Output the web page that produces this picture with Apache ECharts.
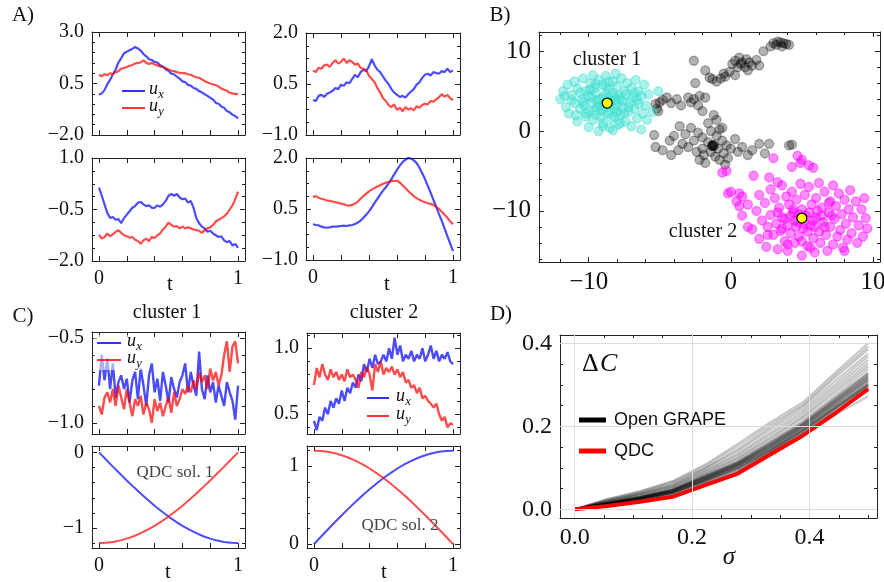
<!DOCTYPE html>
<html>
<head>
<meta charset="utf-8">
<script src="https://cdn.jsdelivr.net/npm/echarts@6/dist/echarts.min.js"></script>
<style>html,body{margin:0;background:#fff}#chart{width:884px;height:582px}</style>
</head>
<body>
<div id="chart"></div>
<script>
// ---- time grids ----
const T51 = [0,0.02,0.04,0.06,0.08,0.1,0.12,0.14,0.16,0.18,0.2,0.22,0.24,0.26,0.28,0.3,0.32,0.34,0.36,0.38,0.4,0.42,0.44,0.46,0.48,0.5,0.52,0.54,0.56,0.58,0.6,0.62,0.64,0.66,0.68,0.7,0.72,0.74,0.76,0.78,0.8,0.82,0.84,0.86,0.88,0.9,0.92,0.94,0.96,0.98,1]
const T21 = [0,0.05,0.1,0.15,0.2,0.25,0.3,0.35,0.4,0.45,0.5,0.55,0.6,0.65,0.7,0.75,0.8,0.85,0.9,0.95,1]

// ---- panel A: four sample pulses ----
const a1Ux = [-0.05,0.02,0.18,0.47,0.68,0.95,1.18,1.52,1.73,1.97,2.04,2.12,2.18,2.27,2.2,2.1,1.93,1.82,1.68,1.64,1.55,1.52,1.38,1.32,1.18,1.12,0.98,0.95,0.83,0.74,0.6,0.57,0.43,0.4,0.28,0.24,0.13,0.07,-0.02,-0.1,-0.2,-0.28,-0.44,-0.48,-0.62,-0.68,-0.84,-0.9,-1.02,-1.08,-1.2]
const a1Uy = [0.92,0.85,0.95,0.9,1.0,0.95,1.05,1.1,1.22,1.25,1.3,1.36,1.4,1.47,1.5,1.52,1.62,1.5,1.45,1.5,1.42,1.38,1.32,1.3,1.25,1.18,1.12,1.1,1.05,1.02,1.0,1.0,0.95,0.92,0.85,0.8,0.78,0.7,0.62,0.55,0.5,0.45,0.42,0.35,0.25,0.2,0.15,0.05,0.02,-0.02,0.0]
const a2Ux = [0.03,0.0,0.15,0.18,0.12,0.21,0.25,0.3,0.38,0.35,0.48,0.45,0.55,0.52,0.65,0.77,0.7,0.85,0.92,0.88,1.02,1.23,1.05,0.92,0.85,0.72,0.6,0.5,0.35,0.25,0.18,0.12,0.15,0.1,0.2,0.28,0.35,0.48,0.55,0.68,0.77,0.8,0.75,0.85,0.82,0.8,0.88,0.85,0.95,0.85,0.9]
const a2Uy = [0.9,0.85,0.98,0.95,1.05,1.07,1.0,1.12,1.2,1.1,1.15,1.25,1.12,1.2,1.15,1.07,1.1,0.97,0.95,0.9,0.74,0.65,0.55,0.38,0.25,0.08,0.0,-0.12,-0.18,-0.1,-0.26,-0.2,-0.3,-0.18,-0.25,-0.21,-0.28,-0.15,-0.2,-0.12,-0.08,-0.1,0.0,-0.02,0.05,0.11,0.2,0.13,0.18,0.08,0.03]
const a3Ux = [0.14,-0.1,-0.35,-0.6,-0.75,-0.72,-0.8,-0.78,-0.9,-0.75,-0.65,-0.55,-0.45,-0.4,-0.3,-0.28,-0.35,-0.4,-0.38,-0.45,-0.45,-0.38,-0.42,-0.35,-0.25,-0.1,-0.05,-0.1,-0.05,-0.15,-0.2,-0.18,-0.3,-0.25,-0.45,-0.75,-0.9,-1.0,-1.05,-1.15,-1.12,-1.2,-1.25,-1.3,-1.28,-1.4,-1.45,-1.42,-1.55,-1.5,-1.62]
const a3Uy = [-1.23,-1.35,-1.3,-1.2,-1.28,-1.22,-1.15,-1.1,-1.18,-1.25,-1.28,-1.32,-1.3,-1.38,-1.42,-1.5,-1.4,-1.35,-1.42,-1.3,-1.33,-1.25,-1.2,-1.08,-1.0,-0.88,-0.95,-1.0,-0.98,-1.05,-1.0,-1.05,-1.02,-1.05,-1.08,-1.1,-1.12,-1.18,-1.1,-1.05,-1.02,-0.95,-0.85,-0.8,-0.75,-0.7,-0.62,-0.5,-0.38,-0.2,0.02]
const a4Ux = [0.05,0.03,0.02,-0.02,-0.04,-0.05,-0.04,-0.02,-0.02,-0.01,0.0,0.01,0.0,0.02,0.03,0.06,0.1,0.16,0.24,0.33,0.43,0.55,0.68,0.8,0.92,1.04,1.14,1.25,1.38,1.52,1.65,1.78,1.88,1.95,2.0,1.98,1.93,1.85,1.72,1.55,1.38,1.18,0.98,0.77,0.56,0.35,0.15,-0.08,-0.3,-0.52,-0.74]
const a4Uy = [0.85,0.88,0.83,0.8,0.78,0.75,0.74,0.72,0.7,0.68,0.66,0.64,0.61,0.6,0.62,0.66,0.72,0.8,0.88,0.95,1.02,1.07,1.12,1.16,1.2,1.24,1.27,1.3,1.32,1.33,1.33,1.28,1.2,1.12,1.03,0.95,0.88,0.82,0.77,0.73,0.7,0.67,0.65,0.62,0.56,0.5,0.42,0.33,0.24,0.14,0.05]

// ---- panel B: embedding ----
const cluster1Pts = [[-12.0,4.0],[-11.8,5.0],[-11.6,3.0],[-11.5,5.8],[-11.4,2.2],[-11.2,4.5],[-11.0,3.5],[-11.0,6.2],[-10.8,1.2],[-10.8,5.3],[-10.6,2.8],[-10.5,4.0],[-10.4,6.6],[-10.3,3.2],[-10.2,1.8],[-10.2,5.0],[-10.0,0.5],[-10.0,2.5],[-10.0,4.4],[-9.9,6.0],[-9.8,3.6],[-9.7,7.0],[-9.7,1.4],[-9.6,5.4],[-9.5,2.0],[-9.5,4.8],[-9.4,3.0],[-9.3,6.4],[-9.3,0.0],[-9.2,4.0],[-9.1,2.6],[-9.0,5.8],[-9.0,1.0],[-8.9,3.4],[-8.8,4.6],[-8.8,6.9],[-8.7,2.2],[-8.6,5.2],[-8.5,0.4],[-8.5,3.8],[-8.4,1.6],[-8.3,6.2],[-8.2,2.8],[-8.2,4.4],[-8.1,7.2],[-8.0,3.2],[-8.0,5.6],[-7.9,0.8],[-7.8,2.0],[-7.8,4.0],[-7.7,6.6],[-7.6,3.0],[-7.5,5.0],[-7.4,1.2],[-7.4,4.6],[-7.3,6.0],[-7.2,2.4],[-7.1,3.6],[-7.0,5.4],[-7.0,0.6],[-6.9,4.2],[-6.8,2.8],[-6.7,6.4],[-6.6,1.6],[-6.5,3.4],[-6.5,5.0],[-6.3,4.4],[-6.2,2.2],[-6.1,5.8],[-6.0,3.2],[-5.9,1.4],[-5.8,4.6],[-5.5,2.4],[-5.1,5.0],[-6.3,0.2],[-9.4,3.8],[-9.2,3.2],[-9.0,4.2],[-8.9,2.9],[-8.7,3.7],[-8.6,4.1],[-8.5,2.6],[-8.4,3.3],[-8.3,4.8],[-8.1,3.9],[-8.0,2.4],[-7.9,4.4],[-9.6,2.6],[-9.8,4.2],[-10.4,3.6],[-8.8,5.6],[-8.2,1.8],[-7.6,3.8],[-9.1,1.8],[-10.6,4.8],[-11.2,3.9],[-7.2,3.0],[-6.8,4.8],[-9.5,5.9],[-8.6,6.2],[-7.5,2.2],[-10.2,2.2],[-9.0,0.6],[-7.8,1.0],[-11.7,4.4],[-10.9,2.0],[-6.6,3.9],[-9.9,5.2],[-8.3,0.1]]
const cluster2Pts = [[1.5,-12.3],[1.8,-10.0],[2.0,-8.0],[2.0,-13.5],[2.2,-11.2],[2.4,-9.0],[2.5,-14.5],[2.6,-12.0],[2.8,-7.3],[2.8,-10.5],[3.0,-13.0],[3.1,-8.4],[3.2,-11.6],[3.3,-14.8],[3.4,-9.6],[3.5,-12.5],[3.6,-6.8],[3.6,-10.8],[3.8,-13.8],[3.9,-8.2],[4.0,-11.8],[4.0,-15.0],[4.1,-9.2],[4.2,-12.8],[4.3,-7.6],[4.4,-10.2],[4.5,-14.0],[4.6,-8.6],[4.7,-11.4],[4.8,-13.2],[4.9,-6.6],[5.0,-9.8],[5.0,-15.6],[5.1,-12.2],[5.2,-8.0],[5.3,-10.6],[5.4,-14.4],[5.5,-7.0],[5.6,-11.8],[5.7,-9.2],[5.8,-13.4],[5.9,-15.2],[6.0,-8.4],[6.0,-10.8],[6.2,-12.6],[6.2,-6.5],[6.3,-14.0],[6.4,-9.6],[6.5,-11.4],[6.6,-7.6],[6.7,-13.0],[6.8,-15.0],[6.9,-10.2],[7.0,-8.8],[7.0,-12.0],[7.2,-6.8],[7.2,-14.2],[7.3,-11.0],[7.4,-9.4],[7.5,-13.2],[7.6,-7.8],[7.7,-12.4],[7.8,-10.4],[7.9,-14.6],[8.0,-8.6],[8.1,-11.6],[8.2,-13.6],[8.3,-9.8],[8.4,-7.4],[8.5,-12.8],[8.6,-10.8],[8.8,-8.8],[8.9,-14.0],[9.0,-11.8],[9.2,-9.8],[9.3,-13.2],[9.5,-10.9],[9.6,-12.2],[9.4,-8.4],[8.0,-15.0],[4.2,-10.6],[4.5,-11.2],[4.8,-10.4],[5.2,-11.6],[5.5,-10.2],[5.8,-11.2],[4.6,-12.0],[5.4,-12.6],[6.1,-10.0],[3.8,-11.0],[4.4,-9.8],[5.9,-12.0],[6.4,-10.6],[3.6,-12.2],[5.0,-13.8],[6.6,-12.0],[3.3,-10.2],[4.0,-14.2],[5.6,-14.6],[7.1,-10.6],[6.9,-9.0],[2.6,-13.0],[1.2,-9.2],[0.8,-8.2],[0.6,-7.8],[0.0,-7.6],[-0.2,-7.8],[0.4,-8.8],[0.6,-9.4],[0.8,-10.6],[1.6,-5.6],[-0.3,-5.0],[-0.6,-5.2],[3.0,-3.4],[4.3,-4.5],[4.7,-3.1],[5.0,-3.6],[5.5,-4.3],[5.8,-4.6],[4.9,-4.0],[3.3,-6.4],[2.7,-5.8],[1.2,-12.0]]
const otherPts = [[-5.3,3.4],[-5.2,2.8],[-5.0,3.6],[-5.1,2.5],[-4.8,3.9],[-4.5,4.2],[-4.2,3.5],[-3.8,4.0],[-3.5,3.2],[-3.0,4.2],[-2.8,3.6],[-2.6,4.0],[-2.2,4.4],[-2.3,3.2],[-2.0,2.5],[-2.5,6.0],[-1.8,4.2],[-2.6,8.8],[-1.8,7.6],[-1.3,6.5],[-1.0,6.2],[-0.7,6.6],[-0.4,6.8],[-0.1,7.4],[0.1,8.4],[0.3,7.0],[0.3,8.8],[0.5,8.0],[0.6,9.2],[0.8,8.6],[1.0,8.0],[1.1,9.0],[1.3,8.6],[1.5,8.2],[1.2,7.6],[0.7,8.4],[-0.5,7.2],[-1.5,6.7],[1.8,8.9],[2.0,8.2],[2.3,10.0],[2.8,10.6],[3.0,11.0],[3.2,10.8],[3.5,11.1],[3.6,10.6],[3.9,10.9],[4.1,10.8],[3.3,11.2],[3.7,11.0],[-1.2,2.0],[-1.6,1.0],[-1.0,1.4],[-0.6,0.4],[-1.4,0.0],[-5.4,-0.5],[-5.3,-2.0],[-4.8,-2.4],[-4.3,-1.2],[-4.2,-3.0],[-3.7,-2.4],[-3.4,-1.6],[-3.2,-0.4],[-3.0,-2.0],[-2.6,-1.2],[-2.4,-2.6],[-2.2,-3.6],[-2.0,-0.8],[-2.0,-2.2],[-1.8,-4.0],[-1.6,-1.4],[-1.4,-2.6],[-1.3,-1.8],[-1.3,-1.9],[-1.2,-1.7],[-1.3,-1.8],[-1.2,-1.9],[-1.1,-3.2],[-1.0,-0.6],[-0.9,-2.2],[-0.8,-3.6],[-0.6,-1.2],[-0.5,-2.8],[-0.3,-1.8],[-0.2,-3.4],[0.0,-2.2],[0.3,-1.0],[0.5,-2.6],[0.8,-2.0],[1.2,-3.0],[1.5,-2.4],[2.0,-1.6],[2.4,-2.8],[2.7,-1.6],[-2.8,0.4],[-2.3,-0.2],[-0.8,0.2],[4.1,-1.8],[4.3,-1.7],[-4.0,-0.6],[-3.6,0.6],[-1.9,-3.0],[-0.4,-4.2]]
const centers = [[-8.7,3.5],[5.0,-10.9]]

// ---- panel C: cluster averages and QDC solutions ----
const c1Ux = [-0.78,-0.6,-0.75,-0.62,-0.8,-0.65,-0.85,-0.76,-0.72,-0.8,-0.74,-0.88,-0.75,-0.7,-0.86,-0.68,-0.78,-0.9,-0.72,-0.65,-0.82,-0.74,-0.87,-0.7,-0.78,-0.88,-0.73,-0.8,-0.85,-0.76,-0.72,-0.65,-0.82,-0.7,-0.78,-0.84,-0.58,-0.8,-0.86,-0.72,-0.82,-0.76,-0.88,-0.78,-0.84,-0.9,-0.76,-0.82,-0.87,-0.98,-0.78]
const c1Uy = [-0.9,-0.95,-0.85,-0.82,-0.88,-0.8,-0.9,-0.78,-0.85,-0.92,-0.8,-0.88,-0.96,-0.86,-0.9,-0.84,-0.95,-0.88,-0.92,-1.0,-0.86,-0.93,-0.88,-0.96,-0.9,-0.85,-0.94,-0.82,-0.9,-0.86,-0.8,-0.83,-0.78,-0.82,-0.75,-0.8,-0.7,-0.76,-0.72,-0.8,-0.68,-0.75,-0.7,-0.78,-0.72,-0.6,-0.52,-0.7,-0.55,-0.52,-0.65]
const c2Ux = [0.45,0.38,0.48,0.45,0.55,0.5,0.6,0.55,0.62,0.58,0.68,0.6,0.7,0.66,0.74,0.7,0.8,0.75,0.88,0.82,0.92,0.85,0.95,0.88,0.9,0.95,0.9,1.0,0.92,1.08,0.95,1.02,0.9,0.95,0.92,0.98,0.9,0.95,0.92,1.0,0.9,0.95,1.02,0.92,0.98,0.9,0.95,0.92,0.97,0.9,0.88]
const c2Uy = [0.72,0.85,0.78,0.88,0.8,0.76,0.84,0.78,0.82,0.76,0.8,0.75,0.84,0.78,0.8,0.76,0.7,0.82,0.78,0.86,0.8,0.68,0.88,0.82,0.9,0.8,0.85,0.82,0.86,0.8,0.84,0.78,0.82,0.74,0.76,0.7,0.72,0.66,0.7,0.62,0.64,0.6,0.58,0.55,0.58,0.5,0.45,0.48,0.4,0.43,0.42]
const qdc1Ux = [0,-0.094,-0.188,-0.280,-0.371,-0.459,-0.545,-0.627,-0.705,-0.779,-0.849,-0.912,-0.971,-1.023,-1.069,-1.109,-1.141,-1.167,-1.185,-1.196,-1.2]
const qdc1Uy = [-1.2,-1.196,-1.185,-1.167,-1.141,-1.109,-1.069,-1.023,-0.971,-0.912,-0.849,-0.779,-0.705,-0.627,-0.545,-0.459,-0.371,-0.280,-0.188,-0.094,0]
const qdc2Ux = [0,0.094,0.188,0.280,0.371,0.459,0.545,0.627,0.705,0.779,0.849,0.912,0.971,1.023,1.069,1.109,1.141,1.167,1.185,1.196,1.2]
const qdc2Uy = [1.2,1.196,1.185,1.167,1.141,1.109,1.069,1.023,0.971,0.912,0.849,0.779,0.705,0.627,0.545,0.459,0.371,0.280,0.188,0.094,0]

// ---- panel D: cost vs noise ----
const sigma = [0,0.0556,0.1111,0.1667,0.2222,0.2778,0.3333,0.3889,0.4444,0.5]
const qdcCost = [0,0.008,0.018,0.03,0.058,0.086,0.132,0.178,0.232,0.29]
const grapeCosts = [
  [0,0.012,0.025,0.040,0.070,0.100,0.142,0.190,0.245,0.300],
  [0,0.014,0.027,0.044,0.075,0.106,0.150,0.198,0.255,0.312],
  [0,0.013,0.026,0.042,0.072,0.104,0.146,0.194,0.250,0.305],
  [0,0.015,0.029,0.047,0.079,0.112,0.158,0.206,0.265,0.325],
  [0,0.016,0.031,0.050,0.083,0.118,0.165,0.214,0.275,0.338],
  [0,0.018,0.034,0.054,0.088,0.125,0.174,0.224,0.288,0.352],
  [0,0.020,0.037,0.058,0.094,0.134,0.185,0.236,0.302,0.368],
  [0,0.022,0.040,0.063,0.100,0.145,0.198,0.248,0.318,0.385],
  [0,0.025,0.044,0.068,0.108,0.158,0.210,0.258,0.330,0.400],
  [0,0.012,0.024,0.038,0.066,0.095,0.138,0.185,0.240,0.295],
  [0,0.011,0.022,0.036,0.064,0.092,0.135,0.182,0.236,0.285],
  [0,0.010,0.021,0.034,0.062,0.090,0.134,0.180,0.228,0.272],
  [0,0.014,0.028,0.045,0.077,0.110,0.154,0.202,0.260,0.318],
  [0,0.016,0.030,0.048,0.080,0.115,0.162,0.210,0.270,0.330],
  [0,0.017,0.032,0.052,0.086,0.122,0.170,0.220,0.282,0.345],
  [0,0.013,0.025,0.041,0.071,0.102,0.144,0.192,0.248,0.302],
  [0,0.015,0.028,0.046,0.078,0.110,0.156,0.204,0.262,0.320],
  [0,0.019,0.036,0.056,0.092,0.130,0.180,0.230,0.295,0.360],
  [0,0.021,0.038,0.060,0.098,0.140,0.192,0.242,0.310,0.375],
  [0,0.014,0.026,0.043,0.074,0.105,0.148,0.196,0.252,0.308],
  [0,0.013,0.027,0.044,0.073,0.108,0.152,0.200,0.258,0.315],
  [0,0.016,0.029,0.047,0.082,0.114,0.160,0.208,0.268,0.328],
  [0,0.012,0.023,0.039,0.068,0.098,0.140,0.188,0.244,0.298],
  [0,0.024,0.042,0.066,0.104,0.152,0.204,0.252,0.324,0.392],
  [0,0.013,0.024,0.040,0.069,0.101,0.143,0.191,0.246,0.301],
  [0,0.014,0.027,0.043,0.074,0.107,0.150,0.199,0.256,0.312],
  [0,0.015,0.029,0.046,0.078,0.111,0.156,0.205,0.263,0.322],
  [0,0.012,0.024,0.039,0.068,0.097,0.139,0.187,0.242,0.296]
]

// ---- tick positions ----
const tTicks = [0,0.2,0.4,0.6,0.8,1]
const tLabels = [0,1]

const SERIF = 'Liberation Serif'
const INK = '#222'
const BLUE = '#0000ff'
const RED = '#ff0000'

const grids = [], xAxes = [], yAxes = [], series = [], graphics = []

const fmt = d => v => (v < -1e-9 ? '\u2212' : '') + Math.abs(v).toFixed(d)

function axis(g, pos, range, ticks, len, labels, formatter, size, line) {
  return {
    type: 'value', gridIndex: g, position: pos, min: range[0], max: range[1],
    axisLine: { show: line, onZero: false, lineStyle: { color: INK, width: 1 } },
    axisTick: { show: ticks.length > 0, inside: true, length: len, customValues: ticks, lineStyle: { color: INK, width: 1 } },
    axisLabel: { show: !!labels, customValues: labels || [], formatter: formatter, color: '#111', fontFamily: SERIF, fontSize: size, margin: 8 },
    splitLine: { show: false }
  }
}

function panel(box, xr, yr, o) {
  const g = grids.length
  grids.push({ left: box[0], top: box[1], width: box[2], height: box[3], outerBoundsMode: 'none' })
  const xi = xAxes.length, yi = yAxes.length
  xAxes.push(axis(g, 'bottom', xr, o.xt, 5, o.xl, o.xf, o.fs, true))
  xAxes.push(axis(g, 'top', xr, o.xt, 5, null, null, o.fs, true))
  xAxes.push(axis(g, 'bottom', xr, o.xm || [], 3, null, null, o.fs, false))
  xAxes.push(axis(g, 'top', xr, o.xm || [], 3, null, null, o.fs, false))
  yAxes.push(axis(g, 'left', yr, o.yt, 5, o.yl || o.yt, o.yf, o.fs, true))
  yAxes.push(axis(g, 'right', yr, o.yt, 5, null, null, o.fs, true))
  yAxes.push(axis(g, 'left', yr, o.ym || [], 3, null, null, o.fs, false))
  yAxes.push(axis(g, 'right', yr, o.ym || [], 3, null, null, o.fs, false))
  return { x: xi, y: yi }
}

function line(ax, t, v, color, width, opacity, extra) {
  series.push(Object.assign({
    type: 'line', xAxisIndex: ax.x, yAxisIndex: ax.y,
    data: t.map((x, i) => [x, v[i]]),
    showSymbol: false, symbol: 'none', silent: true,
    lineStyle: { color: color, width: width, opacity: opacity }
  }, extra || {}))
}

function dots(ax, pts, color, size, opacity, border) {
  series.push({
    type: 'scatter', xAxisIndex: ax.x, yAxisIndex: ax.y, data: pts,
    symbolSize: size, silent: true,
    itemStyle: { color: color, opacity: opacity, borderColor: border || color, borderWidth: 1.3 }
  })
}

function text(x, y, s, size, opts) {
  graphics.push({
    type: 'text', x: x, y: y, z: 100,
    style: Object.assign({ text: s, fontFamily: SERIF, fontSize: size, fill: '#111', align: 'center', verticalAlign: 'middle' }, opts || {})
  })
}

function legendLine(x1, x2, y, color, w) {
  graphics.push({ type: 'line', z: 100, shape: { x1: x1, y1: y, x2: x2, y2: y }, style: { stroke: color, lineWidth: w, opacity: 0.8 } })
}

function sub(x, y, main, s, size) {
  text(x, y, main, size, { align: 'left', fontStyle: 'italic' })
  text(x + size * 0.52, y + size * 0.3, s, size * 0.7, { align: 'left', fontStyle: 'italic' })
}

// ---- build panel A ----
const tRange = [-0.05, 1.05]
const aTop = { xt: tTicks, fs: 20 }
const aBot = { xt: tTicks, xl: tLabels, xf: fmt(0), fs: 20 }
const axA1 = panel([92, 32, 153, 103], tRange, [-2, 3], Object.assign({ yt: [-2, 0.5, 3], ym: [-1.5,-1,-0.5,0,1,1.5,2,2.5], yf: fmt(1) }, aTop))
const axA2 = panel([306, 33, 154, 102], tRange, [-1, 2], Object.assign({ yt: [-1, 0.5, 2], ym: [-0.625,-0.25,0.125,0.875,1.25,1.625], yf: fmt(1) }, aTop))
const axA3 = panel([92, 158, 153, 103], tRange, [-2, 1], Object.assign({ yt: [-2, -0.5, 1], ym: [-1.625,-1.25,-0.875,-0.125,0.25,0.625], yf: fmt(1) }, aBot))
const axA4 = panel([306, 158, 154, 102], tRange, [-1, 2], Object.assign({ yt: [-1, 0.5, 2], ym: [-0.625,-0.25,0.125,0.875,1.25,1.625], yf: fmt(1) }, aBot))
line(axA1, T51, a1Ux, BLUE, 2.2, 0.7); line(axA1, T51, a1Uy, RED, 2.2, 0.7)
line(axA2, T51, a2Ux, BLUE, 2.2, 0.7); line(axA2, T51, a2Uy, RED, 2.2, 0.7)
line(axA3, T51, a3Ux, BLUE, 2.2, 0.7); line(axA3, T51, a3Uy, RED, 2.2, 0.7)
line(axA4, T51, a4Ux, BLUE, 2.2, 0.7); line(axA4, T51, a4Uy, RED, 2.2, 0.7)

// ---- build panel B ----
const axB = panel([539, 32, 341, 230], [-13.5, 10.5], [-16.4, 12.4], {
  xt: [-10, 0, 10], xl: [-10, 0, 10], xf: fmt(0), xm: [-12,-8,-6,-4,-2,2,4,6,8],
  yt: [-10, 0, 10], yf: fmt(0), ym: [-16,-14,-12,-8,-6,-4,-2,2,4,6,8,12], fs: 25
})
dots(axB, otherPts, '#000', 9, 0.3)
dots(axB, cluster1Pts, '#40e0d0', 9, 0.45)
dots(axB, cluster2Pts, '#ff00ff', 9, 0.45)
dots(axB, centers, '#ffff00', 10, 1, '#000')

// ---- build panel C ----
const axC1 = panel([92, 332, 153, 102], tRange, [-1.065, -0.465], { xt: tTicks, yt: [-1, -0.5], ym: [-0.9,-0.8,-0.7,-0.6], yf: fmt(1), fs: 20 })
const axC2 = panel([307, 333, 153, 101], tRange, [0.35, 1.115], { xt: tTicks, yt: [0.5, 1], ym: [0.4,0.6,0.7,0.8,0.9,1.1], yf: fmt(1), fs: 20 })
const axC3 = panel([92, 446, 153, 102], tRange, [-1.265, 0.085], { xt: tTicks, xl: tLabels, xf: fmt(0), yt: [-1, 0], ym: [-1.2,-0.8,-0.6,-0.4,-0.2], yf: fmt(0), fs: 20 })
const axC4 = panel([307, 446, 153, 102], tRange, [-0.05, 1.26], { xt: tTicks, xl: tLabels, xf: fmt(0), yt: [0, 1], ym: [0.2,0.4,0.6,0.8,1.2], yf: fmt(0), fs: 20 })
line(axC1, T51, c1Ux, BLUE, 2.4, 0.7); line(axC1, T51, c1Uy, RED, 2.4, 0.7)
line(axC2, T51, c2Ux, BLUE, 2.4, 0.7); line(axC2, T51, c2Uy, RED, 2.4, 0.7)
line(axC3, T21, qdc1Ux, BLUE, 2, 0.7); line(axC3, T21, qdc1Uy, RED, 2, 0.7)
line(axC4, T21, qdc2Ux, BLUE, 2, 0.7); line(axC4, T21, qdc2Uy, RED, 2, 0.7)

// ---- build panel D ----
const axD = panel([560, 335, 317, 183], [-0.025, 0.515], [-0.021, 0.42], {
  xt: [0, 0.2, 0.4], xl: [0, 0.2, 0.4], xf: fmt(1), xm: [0.05,0.1,0.15,0.25,0.3,0.35,0.45,0.5],
  yt: [0, 0.2, 0.4], yf: fmt(1), ym: [0.05,0.1,0.15,0.25,0.3,0.35], fs: 24
})
grapeCosts.forEach((c, i) => line(axD, sigma, c, '#000', 2, 0.22, i === 0 ? {
  markLine: { silent: true, symbol: 'none', label: { show: false }, lineStyle: { color: '#dcdcdc', width: 1, type: 'solid', opacity: 1 },
    data: [{ xAxis: 0 }, { xAxis: 0.2 }, { xAxis: 0.4 }, { yAxis: 0 }, { yAxis: 0.2 }, { yAxis: 0.4 }] }
} : null))
line(axD, sigma, qdcCost, RED, 4, 1)

// ---- labels & legends ----
text(23, 15, 'A)', 21); text(500, 15, 'B)', 21); text(23, 316, 'C)', 21); text(501, 314, 'D)', 21)
legendLine(122, 145, 91, BLUE, 2); legendLine(122, 145, 108, RED, 2)
sub(149, 89, 'u', 'x', 18); sub(149, 106, 'u', 'y', 18)
text(170, 284, 't', 21); text(387, 284, 't', 21); text(168, 572, 't', 21); text(384, 572, 't', 21)
text(607, 60, 'cluster 1', 20); text(703, 232, 'cluster 2', 20)
text(167, 313, 'cluster 1', 20); text(384, 313, 'cluster 2', 20)
graphics.push({ type: 'rect', z: 90, shape: { x: 94, y: 335, width: 52, height: 35 }, style: { fill: 'rgba(255,255,255,0.55)' } })
legendLine(97, 121, 343, BLUE, 2); legendLine(97, 121, 360, RED, 2)
sub(127, 341, 'u', 'x', 18); sub(127, 358, 'u', 'y', 18)
legendLine(367, 389, 398, BLUE, 2); legendLine(367, 389, 416, RED, 2)
sub(396, 396, 'u', 'x', 18); sub(396, 414, 'u', 'y', 18)
text(175, 473, 'QDC sol. 1', 17, { fill: '#444' }); text(400, 526, 'QDC sol. 2', 17, { fill: '#444' })
text(582, 364, 'Δ', 26, { align: 'left' }); text(600, 364, 'C', 26, { align: 'left', fontStyle: 'italic' })
graphics.push({ type: 'line', z: 100, shape: { x1: 579, y1: 420, x2: 606, y2: 420 }, style: { stroke: '#000', lineWidth: 5 } })
graphics.push({ type: 'line', z: 100, shape: { x1: 579, y1: 451, x2: 606, y2: 451 }, style: { stroke: RED, lineWidth: 5 } })
text(614, 420, 'Open GRAPE', 18, { align: 'left', fontFamily: 'Liberation Sans' })
text(614, 451, 'QDC', 18, { align: 'left', fontFamily: 'Liberation Sans' })
text(729, 557, 'σ', 25, { fontStyle: 'italic' })

const chart = echarts.init(document.getElementById('chart'))
chart.setOption({
  animation: false,
  backgroundColor: '#fff',
  grid: grids, xAxis: xAxes, yAxis: yAxes, series: series, graphic: graphics
})
</script>
</body>
</html>
